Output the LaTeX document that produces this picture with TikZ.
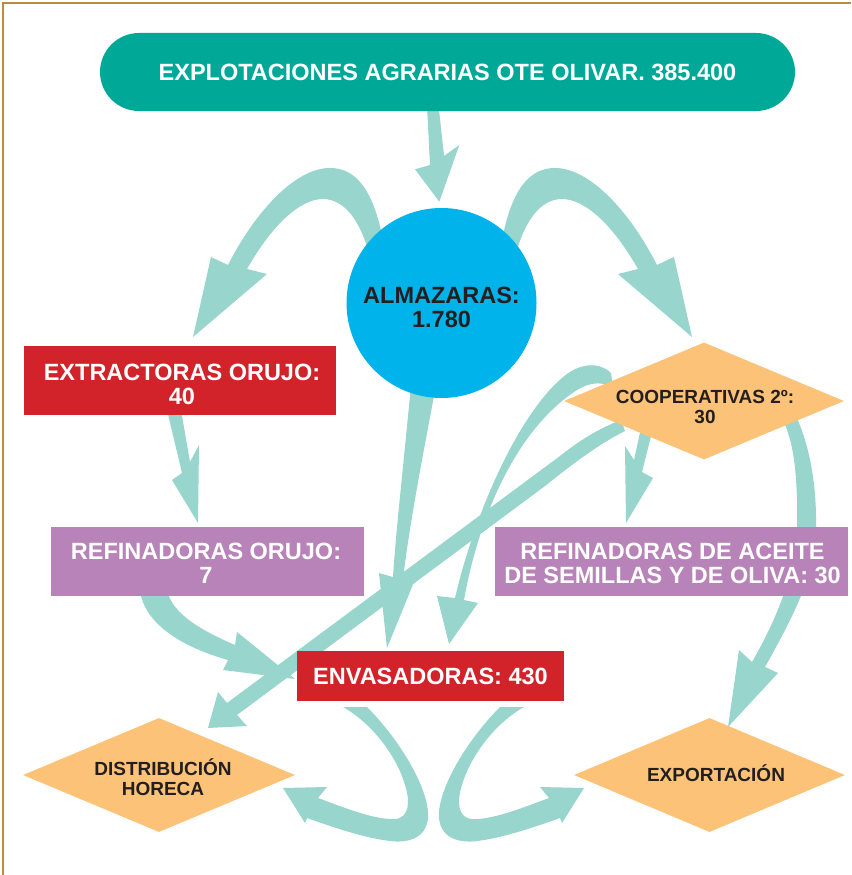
\documentclass[tikz,border=0pt]{standalone}
\usepackage{fontspec}
\setmainfont{Liberation Sans}
\usetikzlibrary{shapes.geometric}
\definecolor{topteal}{HTML}{00A997}
\definecolor{flowc}{HTML}{98D5CD}
\definecolor{almc}{HTML}{00B3EA}
\definecolor{redc}{HTML}{D2232A}
\definecolor{purc}{HTML}{B883B8}
\definecolor{diac}{HTML}{FCC278}
\definecolor{framec}{HTML}{BA8A40}
\definecolor{inkc}{HTML}{231F20}
\begin{document}
\begin{tikzpicture}[x=1pt,y=-1pt,
  flow/.style={fill=flowc},
  bigtxt/.style={font=\bfseries\fontsize{23.5}{24}\selectfont, align=center, inner sep=0pt},
  smalltxt/.style={font=\bfseries\fontsize{19}{20}\selectfont, align=center, inner sep=0pt, text=inkc},
  boxnode/.style={rectangle, inner sep=0pt, draw=none},
  rhomb/.style={diamond, fill=diac, inner sep=0pt, draw=none},
]
\useasboundingbox (0,0) rectangle (851,875);
\fill[white] (0,0) rectangle (851,875);
\draw[framec, line width=2pt] (3,875) -- (3,3) -- (851,3);

% ---------- connectors (tapered arrows) ----------
% top box -> almazaras
\fill[flow] (427,105) -- (430,165) -- (415,169.3) -- (439.3,201.7) -- (459.3,145) -- (444,156) -- (438.5,105) -- cycle;
% almazaras -> extractoras
\fill[flow] (383,240) .. controls (373,188) and (355,168) .. (330,168) .. controls (295,168) and (255,212) .. (228,265) -- (211,257) -- (193,337) -- (267,274) -- (247,269) .. controls (272,225) and (300,199) .. (323,199) .. controls (345,199) and (360,222) .. (368,250) -- cycle;
% almazaras -> cooperativas (mirror)
\begin{scope}[xshift=885pt, xscale=-1]
\fill[flow] (383,240) .. controls (373,188) and (355,168) .. (330,168) .. controls (295,168) and (255,212) .. (228,265) -- (211,257) -- (193,337) -- (267,274) -- (247,269) .. controls (272,225) and (300,199) .. (323,199) .. controls (345,199) and (360,222) .. (368,250) -- cycle;
\end{scope}
% extractoras -> refinadoras orujo
\fill[flow] (167,410) -- (182,473) -- (172,480) -- (198,523) -- (199,445) -- (190,462) -- (181,410) -- cycle;
% refinadoras orujo -> envasadoras
\fill[flow] (140,590) .. controls (144,625) and (185,648) .. (228,660) -- (223,670) -- (295,679) -- (237,632) -- (235,645) .. controls (205,632) and (172,615) .. (167,590) -- cycle;
% almazaras -> envasadoras
\fill[flow] (411,385) .. controls (403,470) and (396,530) .. (393,577) -- (379,573) -- (387,648) -- (414,582) -- (403,579) .. controls (410,520) and (424,450) .. (436,385) -- cycle;
% cooperativas -> envasadoras (hook)
\fill[flow] (611,373) .. controls (600,362) and (582,363) .. (567,374) .. controls (525,405) and (478,500) .. (455,598) -- (437,596) -- (449,644) -- (478,603) -- (464,600) .. controls (478,520) and (515,430) .. (577,390) .. controls (592,381) and (604,382) .. (613,388) -- cycle;
% cooperativas -> distribucion horeca
\fill[flow] (621,420) .. controls (600,428) and (580,440) .. (560,456) -- (227,703) -- (218,692) -- (208,728) -- (247,726) -- (237,715) -- (545,486) .. controls (570,466) and (597,445) .. (625,431) -- cycle;
% cooperativas -> refinadoras aceite
\fill[flow] (641,428) -- (634,460) -- (625,446) -- (626,523) -- (653,478) -- (642,472) -- (653,428) -- cycle;
% cooperativas -> exportacion
\fill[flow] (782,418) .. controls (793,440) and (798,470) .. (797,530) .. controls (796,565) and (782,610) .. (752,662) -- (739,650) -- (728,727) -- (778,673) -- (765,667) .. controls (797,610) and (816,570) .. (816,530) .. controls (817,480) and (808,440) .. (794,412) -- cycle;
% envasadoras -> horeca
\fill[flow] (343,707) -- (367,707) .. controls (400,740) and (430,790) .. (428,818) .. controls (426,840) and (405,843) .. (390,841) .. controls (365,838) and (335,828) .. (307,818) -- (305,823) -- (283,788) -- (327,787) -- (318,798) .. controls (345,808) and (375,820) .. (395,819) .. controls (410,818) and (410,800) .. (405,785) .. controls (398,760) and (375,725) .. (343,707) -- cycle;
% envasadoras -> exportacion (mirror)
\begin{scope}[xshift=867pt, xscale=-1]
\fill[flow] (343,707) -- (367,707) .. controls (400,740) and (430,790) .. (428,818) .. controls (426,840) and (405,843) .. (390,841) .. controls (365,838) and (335,828) .. (307,818) -- (305,823) -- (283,788) -- (327,787) -- (318,798) .. controls (345,808) and (375,820) .. (395,819) .. controls (410,818) and (410,800) .. (405,785) .. controls (398,760) and (375,725) .. (343,707) -- cycle;
\end{scope}

% ---------- nodes ----------
\node[boxnode, fill=topteal, minimum width=695pt, minimum height=78pt, rounded corners=39pt, bigtxt, text=white] (top) at (447.5,72) {EXPLOTACIONES AGRARIAS OTE OLIVAR. 385.400};

\node[circle, fill=almc, minimum size=190pt, inner sep=0pt] (alm) at (441.5,303) {};
\node[bigtxt, text=inkc] (almt) at (441.5,307) {ALMAZARAS:\\1.780};

\node[boxnode, fill=redc, minimum width=312pt, minimum height=69pt] (extr) at (180,380.5) {};
\node[bigtxt, text=white] (extrt) at (182,384) {EXTRACTORAS ORUJO:\\40};

\node[rhomb, minimum width=280pt, minimum height=117pt] (coop) at (704,401) {};
\node[smalltxt] (coopt) at (705,406.5) {COOPERATIVAS 2º:\\30};

\node[boxnode, fill=purc, minimum width=313pt, minimum height=69pt] (refor) at (207.5,561.5) {};
\node[bigtxt, text=white] (refort) at (206,563) {REFINADORAS ORUJO:\\7};

\node[boxnode, fill=purc, minimum width=353pt, minimum height=69pt] (refac) at (671.5,561.5) {};
\node[bigtxt, text=white] (refact) at (672.5,563) {REFINADORAS DE ACEITE\\DE SEMILLAS Y DE OLIVA: 30};

\node[boxnode, fill=redc, minimum width=267pt, minimum height=50pt, bigtxt, text=white] (envas) at (430.5,676) {ENVASADORAS: 430};

\node[rhomb, minimum width=272pt, minimum height=114pt] (horeca) at (159,775) {};
\node[smalltxt] (horecat) at (163,777) {DISTRIBUCIÓN\\HORECA};

\node[rhomb, minimum width=271pt, minimum height=114pt] (expo) at (709.5,775) {};
\node[smalltxt] (expot) at (716,773.5) {EXPORTACIÓN};
\end{tikzpicture}
\end{document}
